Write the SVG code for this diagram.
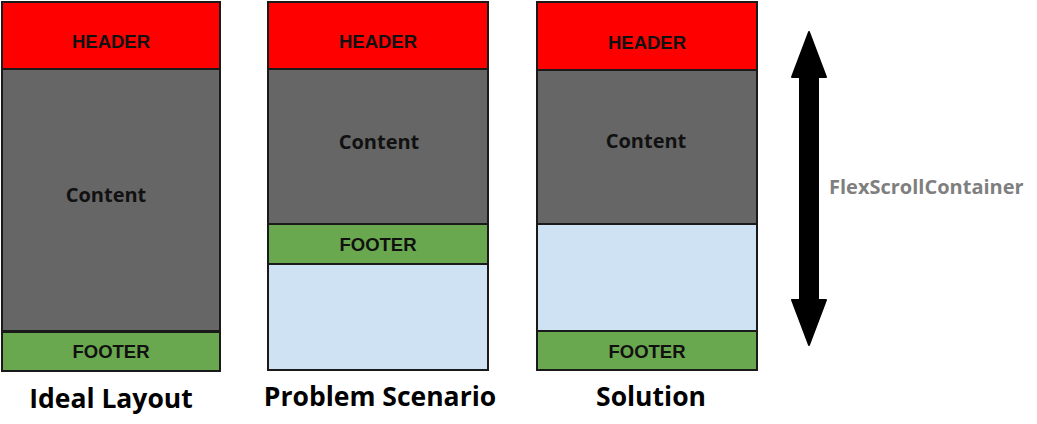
<svg xmlns="http://www.w3.org/2000/svg" width="1037" height="424" viewBox="0 0 1037 424">
<style>
.b{stroke:#1a1a1a;stroke-width:2}
.hd{fill:#ff0000}
.ct{fill:#666666}
.ft{fill:#6aa84f}
.em{fill:#cfe2f3}
.lb{font-family:"Liberation Sans",Arial,sans-serif;font-weight:bold;font-size:18.5px;fill:#111;text-anchor:middle}
.cl{font-family:"Open Sans","Noto Sans",sans-serif;font-weight:bold;font-size:20px;fill:#111;text-anchor:middle}
.cap{font-family:"Open Sans","Noto Sans",sans-serif;font-weight:bold;font-size:26.5px;fill:#000;text-anchor:middle}
.fx{font-family:"Open Sans","Noto Sans",sans-serif;font-weight:bold;font-size:20px;fill:#7f7f7f}
</style>
<rect width="1037" height="424" fill="#ffffff"/>
<g id="ideal">
<rect class="b hd" x="2" y="2" width="218" height="67"/>
<rect class="b ct" x="2" y="69" width="218" height="262"/>
<rect class="b ft" x="2" y="332" width="218" height="39"/>
<text class="lb" x="111" y="48">HEADER</text>
<text class="cl" x="106" y="202">Content</text>
<text class="lb" x="111" y="358">FOOTER</text>
<text class="cap" x="111" y="408">Ideal Layout</text>
</g>
<g id="problem">
<rect class="b em" x="268" y="2" width="220" height="368"/>
<rect class="b hd" x="268" y="2" width="220" height="67"/>
<rect class="b ct" x="268" y="69" width="220" height="155"/>
<rect class="b ft" x="268" y="224" width="220" height="40"/>
<text class="lb" x="378" y="48">HEADER</text>
<text class="cl" x="379" y="149">Content</text>
<text class="lb" x="378" y="251">FOOTER</text>
<text class="cap" x="380" y="406">Problem Scenario</text>
</g>
<g id="solution">
<rect class="b em" x="537" y="2" width="220" height="368"/>
<rect class="b hd" x="537" y="2" width="220" height="68"/>
<rect class="b ct" x="537" y="70" width="220" height="154"/>
<rect class="b ft" x="537" y="331" width="220" height="39"/>
<text class="lb" x="647" y="49">HEADER</text>
<text class="cl" x="646" y="148">Content</text>
<text class="lb" x="647" y="358">FOOTER</text>
<text class="cap" x="651" y="406">Solution</text>
</g>
<g id="connectors">
<polygon points="809,32 826,77 818,77 818,300 826,300 809,345 792,300 800,300 800,77 792,77" fill="#000" stroke="#000" stroke-width="2" stroke-linejoin="round"/>
</g>
<g id="flexscroll">
<text class="fx" x="829" y="194">FlexScrollContainer</text>
</g>
</svg>
